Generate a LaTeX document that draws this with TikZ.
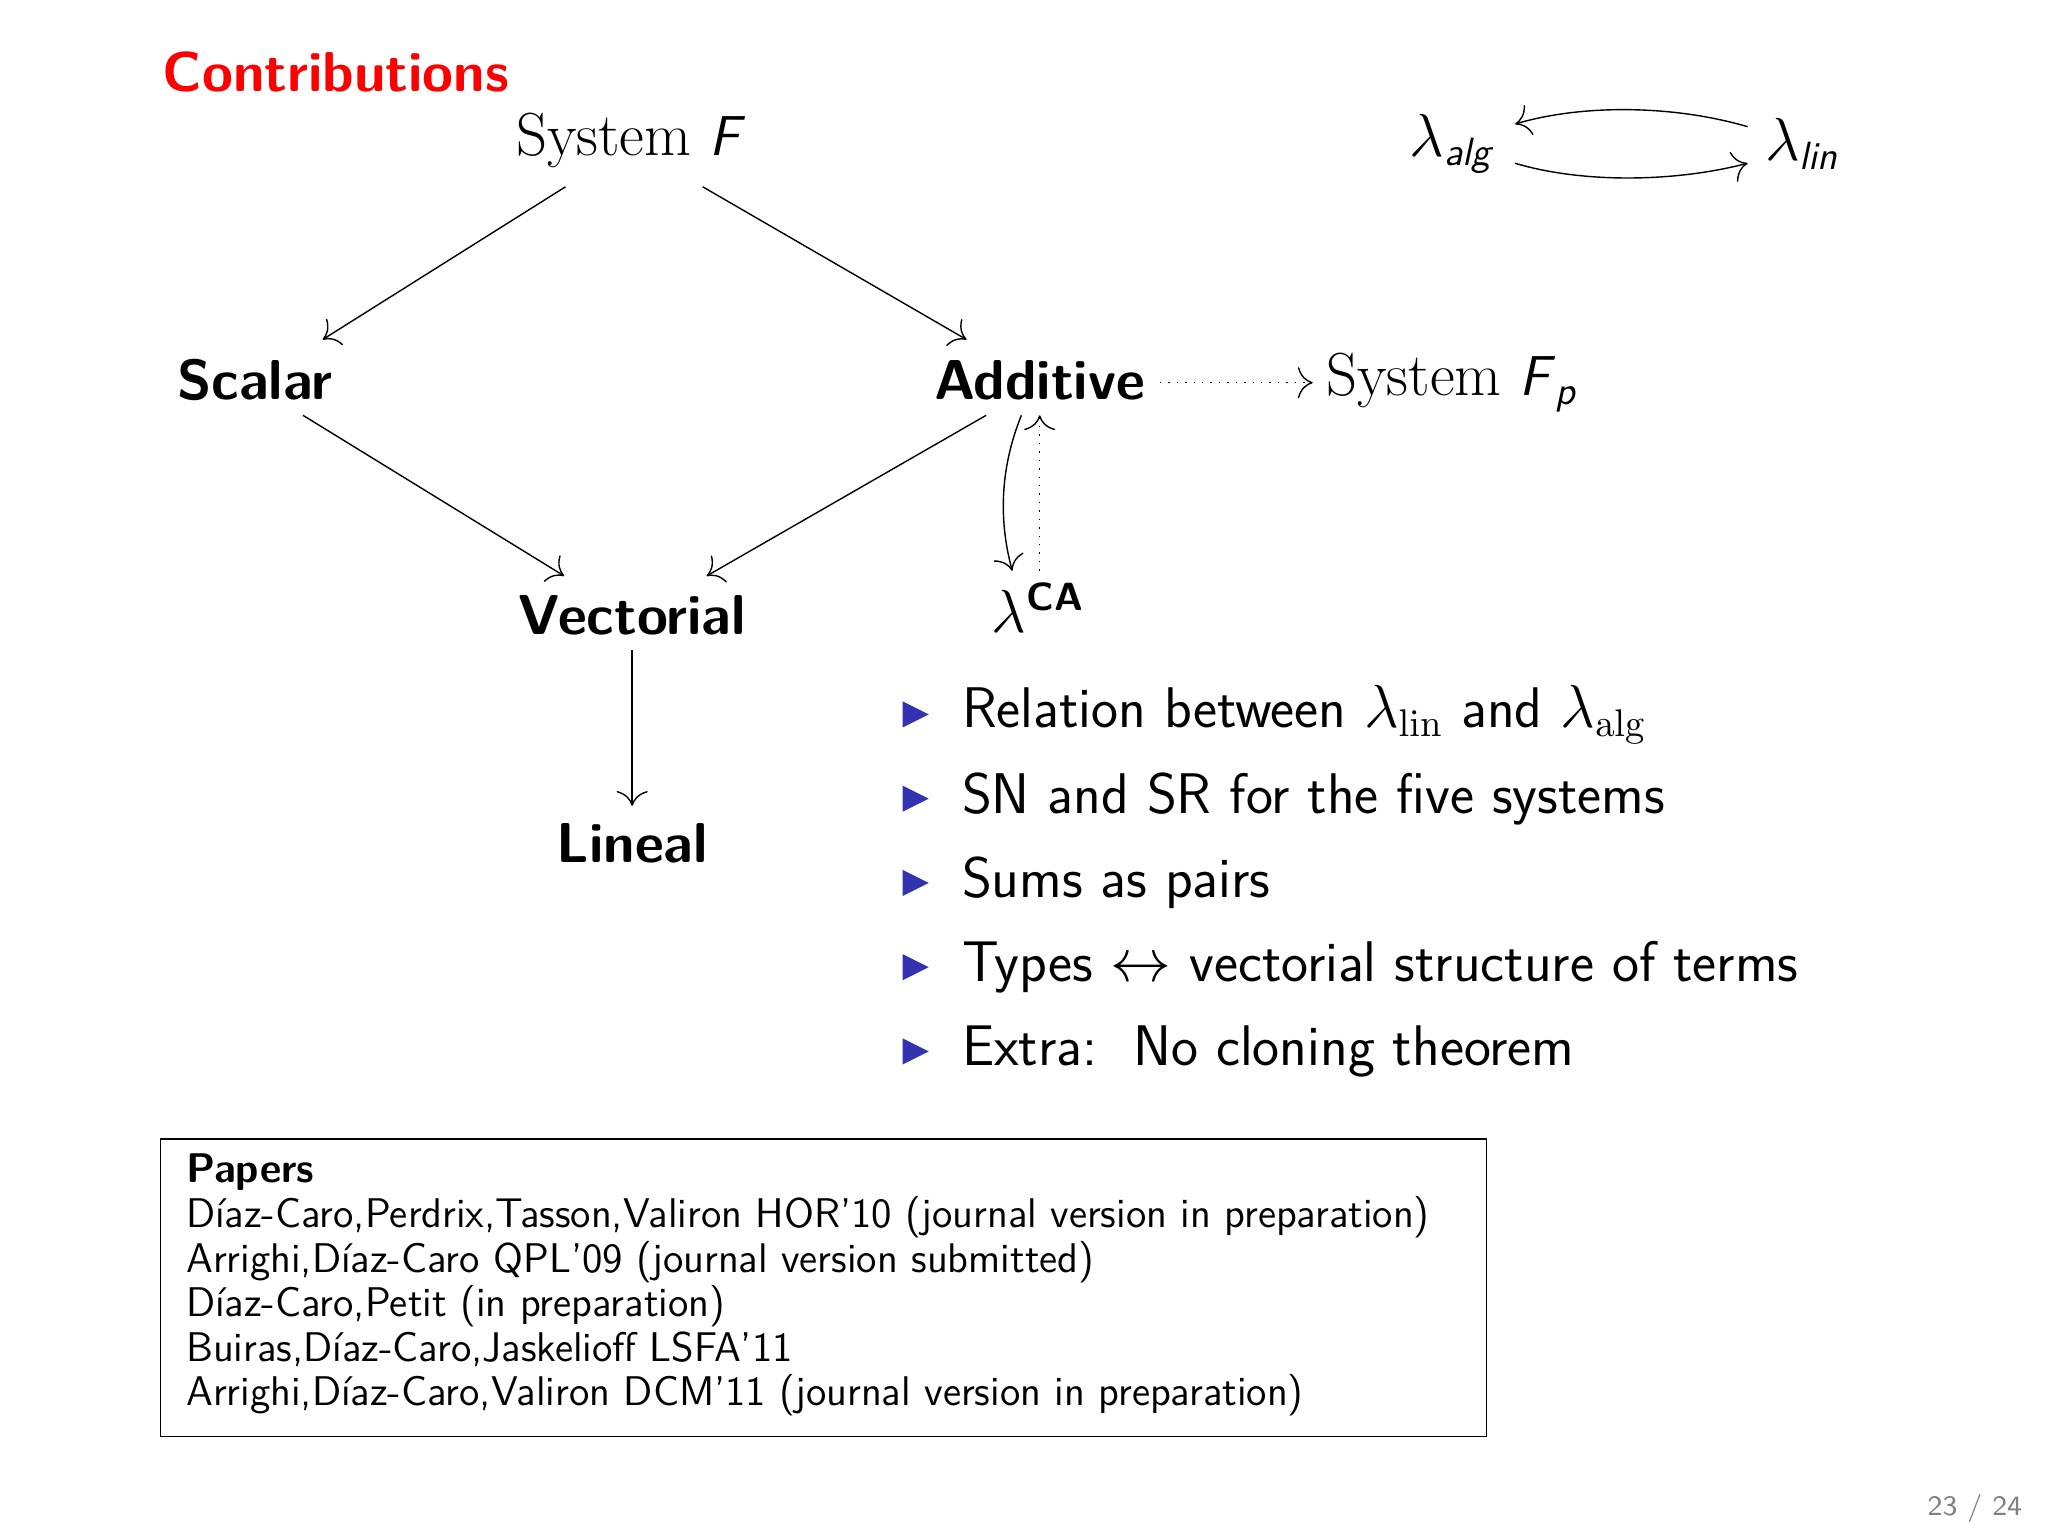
\documentclass[tikz,border=0pt]{standalone}
\usepackage{amsmath,amssymb}
\usetikzlibrary{arrows.meta,positioning}
\renewcommand{\familydefault}{\sfdefault}
\newcommand{\bigfont}{\fontsize{16}{19}\selectfont}
\newcommand{\midfont}{\fontsize{16.3}{19}\selectfont}
\newcommand{\papfont}{\fontsize{11.8}{12.7}\selectfont}
\newcommand{\sfit}[1]{\textsf{\textit{#1}}}
\definecolor{bulletblue}{RGB}{51,51,178}

\begin{document}
\begin{tikzpicture}[x=0.01306cm,y=-0.01306cm,>={To[scale=1.7]},
  sys/.style={font=\bigfont,inner sep=2pt,outer sep=6pt},
  bsys/.style={sys,font=\bigfont\bfseries},
  item/.style={anchor=west,font=\midfont,inner sep=0pt}]
  \useasboundingbox[fill=white] (0,0) rectangle (1568,1176);
  \node[anchor=west,text=red,font=\bigfont\bfseries,inner sep=0pt] at (124,55) {Contributions};
  % systems
  \node[sys] (sysF) at (483,108) {$\mathrm{System}$ \sfit{F}};
  \node[bsys] (scalar) at (195,291) {Scalar};
  \node[bsys] (additive) at (796,291) {Additive};
  \node[bsys] (vectorial) at (484,471) {Vectorial};
  \node[bsys] (lineal) at (484,646) {Lineal};
  \node[sys] (sysFp) at (1112,293) {$\mathrm{System}$ \sfit{F}$_{\sfit{p}}$};
  \node[sys] (lca) at (795,465) {$\lambda^{\textbf{CA}}$};
  \node[sys] (lalg) at (1112,110) {$\lambda_{\sfit{alg}}$};
  \node[sys] (llin) at (1380,110) {$\lambda_{\sfit{lin}}$};
  % arrow ends
  \coordinate (f1) at (433,143); \coordinate (f2) at (538,143);
  \coordinate (s1) at (247,260); \coordinate (s2) at (232,318);
  \coordinate (a1) at (740,260); \coordinate (a2) at (755,318);
  \coordinate (v1) at (432,441); \coordinate (v2) at (541,441);
  \coordinate (a3) at (782,318); \coordinate (a4) at (796,318);
  \coordinate (c1) at (775,437); \coordinate (c2) at (796,437);
  \coordinate (l1) at (1338,97); \coordinate (l2) at (1160,95);
  \coordinate (l3) at (1160,125); \coordinate (l4) at (1338,125);
  \coordinate (v3) at (484,498); \coordinate (n1) at (484,617);
  \coordinate (d1) at (888,293); \coordinate (d2) at (1005,293);
  % arrows
  \draw[->] (f1) -- (s1);
  \draw[->] (f2) -- (a1);
  \draw[->] (s2) -- (v1);
  \draw[->] (a2) -- (v2);
  \draw[->] (v3) -- (n1);
  \draw[->,dotted] (d1) -- (d2);
  \draw[->] (a3) .. controls (765,360) and (765,400) .. (c1);
  \draw[->,dotted] (c2) -- (a4);
  \draw[->] (l1) .. controls (1280,80) and (1210,80) .. (l2);
  \draw[->] (l3) .. controls (1210,140) and (1280,140) .. (l4);
  % bullets
  \foreach \t [count=\i from 0] in {Relation between $\lambda_{\mathrm{lin}}$ and $\lambda_{\mathrm{alg}}$,
      SN and SR for the five systems, Sums as pairs,
      Types $\leftrightarrow$ vectorial structure of terms,
      Extra:\ \ No cloning theorem} {
    \fill[bulletblue] (691,537+64.5*\i) -- (711,547+64.5*\i) -- (691,557+64.5*\i) -- cycle;
    \node[item] (it\i) at (736,547+64.5*\i) {\t};
  }
  % papers
  \draw (123,872) rectangle (1138,1100);
  \node[anchor=north west,font=\papfont,align=left,inner sep=0pt] (papers) at (142,883) {%
    \textbf{Papers}\\
    D\'iaz-Caro,Perdrix,Tasson,Valiron HOR'10 (journal version in preparation)\\
    Arrighi,D\'iaz-Caro QPL'09 (journal version submitted)\\
    D\'iaz-Caro,Petit (in preparation)\\
    Buiras,D\'iaz-Caro,Jaskelioff LSFA'11\\
    Arrighi,D\'iaz-Caro,Valiron DCM'11 (journal version in preparation)};
  \node[text=gray,font=\fontsize{8}{9}\selectfont] at (1512,1155) {23 / 24};
\end{tikzpicture}
\end{document}
